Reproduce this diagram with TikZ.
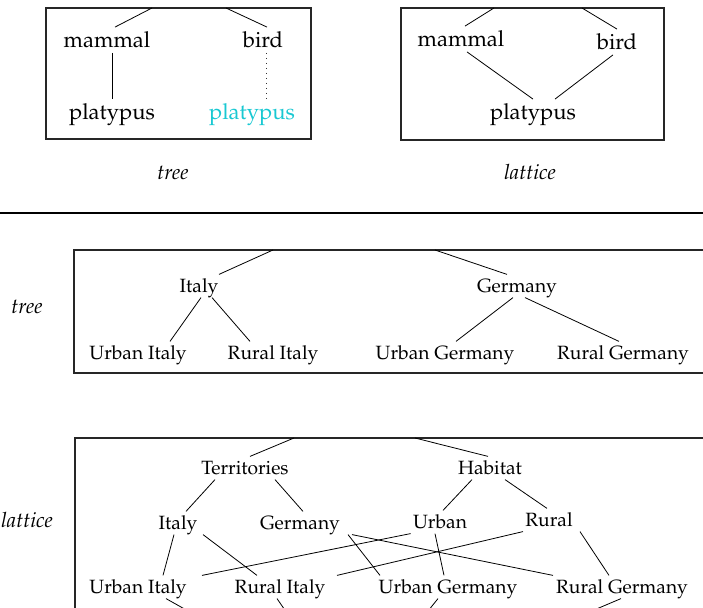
\documentclass[tikz,border=0pt]{standalone}
\usepackage[T1]{fontenc}
\usepackage{mathpazo}
\definecolor{platcyan}{RGB}{25,200,210}

\begin{document}
\begin{tikzpicture}[x=0.5pt,y=-0.5pt,
        big/.style={font=\fontsize{11}{13}\selectfont, text height=9pt, text depth=1.5pt, inner sep=1pt},
        small/.style={font=\fontsize{9.6}{12}\selectfont, text height=8pt, text depth=1.2pt, inner sep=1pt},
        caption/.style={font=\fontsize{10.5}{12}\selectfont\itshape},
        frame/.style={draw=black!85, line width=0.6pt},
        edge/.style={line width=0.4pt}]
        \useasboundingbox (0,0) rectangle (703,608);
        \clip (0,0) rectangle (703,608);

        \draw[frame] (46,8) rectangle (311,139);
        \node[big] (tmam) at (107,40) {mammal};
        \node[big] (tbird) at (263,40) {bird};
        \node[big] (tplat) at (112,112) {platypus};
        \node[big, text=platcyan] (tplatb) at (252,112) {platypus};
        \coordinate (tm) at (152,8);
        \coordinate (tb) at (226,8);
        \draw[edge] (tm) -- ([xshift=4pt]tmam.north);
        \draw[edge] (tb) -- ([xshift=2pt]tbird.north);
        \draw[edge] ([xshift=2.5pt]tmam.south) -- (tplat.north);
        \draw[edge, black!80, line width=0.5pt, dotted] ([xshift=1.5pt]tbird.south) -- ([xshift=7pt]tplatb.north);
        \node[caption] (ttree) at (173,173) {tree};

        \draw[frame] (401,8) rectangle (664,140);
        \node[big] (lmam) at (461,39) {mammal};
        \node[big] (lbird) at (617,42) {bird};
        \node[big] (lplat) at (533,112) {platypus};
        \coordinate (lm) at (494,8);
        \coordinate (lb) at (582,8);
        \draw[edge] (lm) -- ([xshift=2pt]lmam.north);
        \draw[edge] (lb) -- (lbird.north);
        \draw[edge] ([xshift=3pt]lmam.south) -- (lplat.north);
        \draw[edge] ([xshift=-2pt]lbird.south) -- ([xshift=11pt]lplat.north);
        \node[caption] (llat) at (530,172) {lattice};

        \draw[line width=0.6pt] (0,213) -- (703,213);

        \node[caption] (mtree) at (27,307) {tree};
        \draw[frame] (74,250) rectangle (760,373);
        \node[small] (mit) at (199,286) {Italy};
        \node[small] (mge) at (517,286) {Germany};
        \node[small] (muit) at (138,353) {Urban Italy};
        \node[small] (mrit) at (273,353) {Rural Italy};
        \node[small] (mug) at (445,353) {Urban Germany};
        \node[small] (mrg) at (623,353) {Rural Germany};
        \coordinate (mi) at (273,250);
        \coordinate (mg) at (435,250);
        \draw[edge] (mi) -- ([xshift=10pt]mit.north);
        \draw[edge] (mg) -- ([xshift=-5pt]mge.north);
        \draw[edge] ([xshift=1pt]mit.south) -- ([xshift=16pt]muit.north);
        \draw[edge] ([xshift=6.5pt]mit.south) -- ([xshift=-11.5pt]mrit.north);
        \draw[edge] ([xshift=-2pt]mge.south) -- ([xshift=5.5pt]mug.north);
        \draw[edge] ([xshift=4pt]mge.south) -- ([xshift=-2pt]mrg.north);

        \node[caption] (blat) at (27,520) {lattice};
        \draw[frame] (75,438) rectangle (760,700);
        \node[small] (bter) at (245,468) {Territories};
        \node[small] (bhab) at (490,468) {Habitat};
        \node[small] (bit) at (178,523) {Italy};
        \node[small] (bge) at (300,523) {Germany};
        \node[small] (bur) at (440,522) {Urban};
        \node[small] (bru) at (549,520) {Rural};
        \node[small] (buit) at (138,587) {Urban Italy};
        \node[small] (brit) at (280,587) {Rural Italy};
        \node[small] (bug) at (448,587) {Urban Germany};
        \node[small] (brg) at (622,587) {Rural Germany};
        \coordinate (bt) at (294,438);
        \coordinate (bh) at (415,438);
        \coordinate (buitx) at (197,616);
        \coordinate (britx) at (289,616);
        \coordinate (bugx) at (424,616);
        \coordinate (brgx) at (580,616);
        \draw[edge] (bt) -- ([xshift=2.5pt]bter.north);
        \draw[edge] (bh) -- ([xshift=-1pt]bhab.north);
        \draw[edge] ([xshift=-15pt]bter.south) -- ([xshift=4pt]bit.north);
        \draw[edge] ([xshift=15pt]bter.south) -- ([xshift=1.5pt]bge.north);
        \draw[edge] ([xshift=-9pt]bhab.south) -- ([xshift=1.5pt]bur.north);
        \draw[edge] ([xshift=7.5pt]bhab.south) -- ([xshift=-1pt]bru.north);
        \draw[edge] ([xshift=-2pt]bit.south) -- ([xshift=12.5pt]buit.north);
        \draw[edge] ([xshift=12.5pt]bit.south) -- ([xshift=-11.5pt]brit.north);
        \draw[edge] ([xshift=24pt]bge.south) -- ([xshift=-34pt]bug.north);
        \draw[edge] ([xshift=26pt]bge.south) -- ([xshift=-34.5pt]brg.north);
        \draw[edge] ([xshift=32pt]buit.north) -- (bur.south west);
        \draw[edge] ([xshift=28.5pt]brit.north) -- (bru.south west);
        \draw[edge] ([xshift=-2.5pt]bur.south) -- ([xshift=-2pt]bug.north);
        \draw[edge] ([xshift=15.5pt]bru.south) -- ([xshift=-6.5pt]brg.north);
        \draw[edge] ([xshift=14pt]buit.south) -- (buitx);
        \draw[edge] ([xshift=-1.5pt]brit.south) -- (britx);
        \draw[edge] ([xshift=-5pt]bug.south) -- (bugx);
        \draw[edge] ([xshift=-0.5pt]brg.south) -- (brgx);
\end{tikzpicture}
\end{document}
